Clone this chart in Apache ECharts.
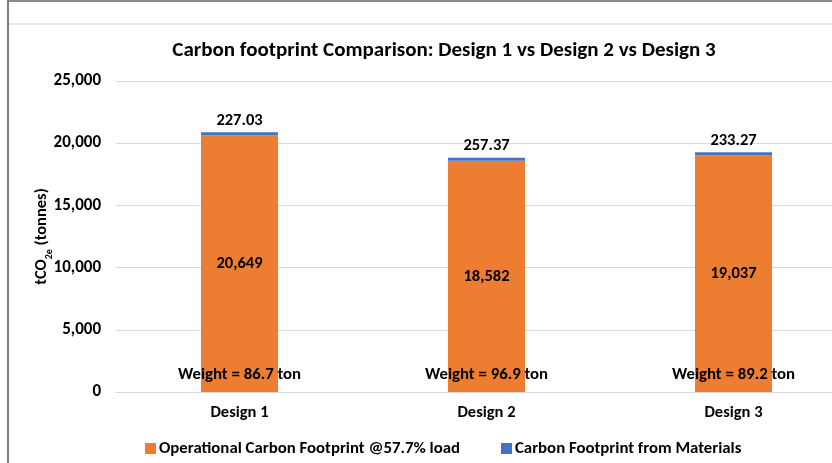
<!DOCTYPE html>
<html>
<head>
<meta charset="utf-8">
<script src="https://cdn.jsdelivr.net/npm/echarts@6/dist/echarts.min.js"></script>
<style>
  html, body { margin: 0; padding: 0; background: #fff; }
  #main { width: 832px; height: 463px; }
</style>
</head>
<body>
<div id="main"></div>
<script>
const designs = ["Design 1", "Design 2", "Design 3"];
const operational = [20649, 18582, 19037];
const materials = [227.03, 257.37, 233.27];
const weights = [86.7, 96.9, 89.2];
const yTicks = [0, 5000, 10000, 15000, 20000, 25000];

const font = "Carlito, 'Liberation Sans Narrow', 'Open Sans', sans-serif";
const orange = "#ED7D31";
const blue = "#4472C4";

const chart = echarts.init(document.getElementById("main"));

const option = {
  animation: false,
  textStyle: { fontFamily: font },
  title: {
    text: "Carbon footprint Comparison: Design 1 vs Design 2 vs Design 3",
    left: 439,
    top: 35,
    textAlign: "center",
    textStyle: { fontFamily: font, fontSize: 21, fontWeight: "bold", color: "#000" }
  },
  graphic: [
    { type: "line", shape: { x1: 8, y1: 1, x2: 832, y2: 1 }, style: { stroke: "#8c8c8c", lineWidth: 2 } },
    { type: "line", shape: { x1: 8, y1: 0, x2: 8, y2: 463 }, style: { stroke: "#7f7f7f", lineWidth: 2 } },
    { type: "line", shape: { x1: 9, y1: 24, x2: 832, y2: 24 }, style: { stroke: "#e6e6e6", lineWidth: 2 } }
  ],
  legend: {
    bottom: 1,
    left: 140,
    icon: "rect",
    itemWidth: 11,
    itemHeight: 11,
    itemGap: 41,
    data: ["Operational Carbon Footprint @57.7% load", "Carbon Footprint from Materials"],
    textStyle: { fontFamily: font, fontSize: 16.8, fontWeight: "bold", color: "#000", padding: [0, 0, 0, -2] }
  },
  grid: { left: 116, width: 741, top: 81, bottom: 71, outerBoundsMode: "none" },
  xAxis: {
    type: "category",
    data: designs,
    axisLine: { lineStyle: { color: "#d9d9d9", width: 1 } },
    axisTick: { show: false },
    axisLabel: { margin: 12, fontFamily: font, fontSize: 16.5, fontWeight: "bold", color: "#000" }
  },
  yAxis: {
    type: "value",
    min: yTicks[0],
    max: yTicks[yTicks.length - 1],
    interval: 5000,
    name: "{a|tCO}{b|2e}{a| (tonnes)}",
    nameLocation: "middle",
    nameGap: 66,
    nameMoveOverlap: false,
    nameRotate: 90,
    nameTextStyle: {
      rich: {
        a: { fontFamily: font, fontSize: 16.5, fontWeight: "bold", color: "#000", lineHeight: 20, verticalAlign: "bottom" },
        b: { fontFamily: font, fontSize: 10, fontWeight: "bold", color: "#000", lineHeight: 20, verticalAlign: "bottom", padding: [0, 0, -4, 0] }
      }
    },
    axisLine: { show: false },
    axisTick: { show: false },
    splitLine: { lineStyle: { color: "#d9d9d9", width: 1 } },
    axisLabel: {
      margin: 15,
      fontFamily: font, fontSize: 17, fontWeight: "bold", color: "#000",
      formatter: v => v.toLocaleString("en-US")
    }
  },
  series: [
    {
      name: "Operational Carbon Footprint @57.7% load",
      type: "bar",
      stack: "total",
      barWidth: 77,
      itemStyle: { color: orange },
      label: {
        show: true,
        position: "inside",
        fontFamily: font, fontSize: 16.5, fontWeight: "bold", color: "#000",
        formatter: p => p.value.toLocaleString("en-US")
      },
      data: operational
    },
    {
      name: "Carbon Footprint from Materials",
      type: "bar",
      stack: "total",
      barWidth: 77,
      itemStyle: { color: blue },
      label: {
        show: true,
        position: "top",
        distance: 3,
        fontFamily: font, fontSize: 16.5, fontWeight: "bold", color: "#000",
        formatter: p => p.value.toFixed(2)
      },
      data: materials
    },
    {
      name: "weight",
      type: "bar",
      barWidth: 77,
      barGap: "-100%",
      silent: true,
      itemStyle: { color: "transparent" },
      label: {
        show: true,
        position: "top",
        distance: 9,
        fontFamily: font, fontSize: 16.8, fontWeight: "bold", color: "#000",
        formatter: p => "Weight = " + weights[p.dataIndex] + " ton"
      },
      data: weights.map(() => 0)
    }
  ]
};

chart.setOption(option);
</script>
</body>
</html>
